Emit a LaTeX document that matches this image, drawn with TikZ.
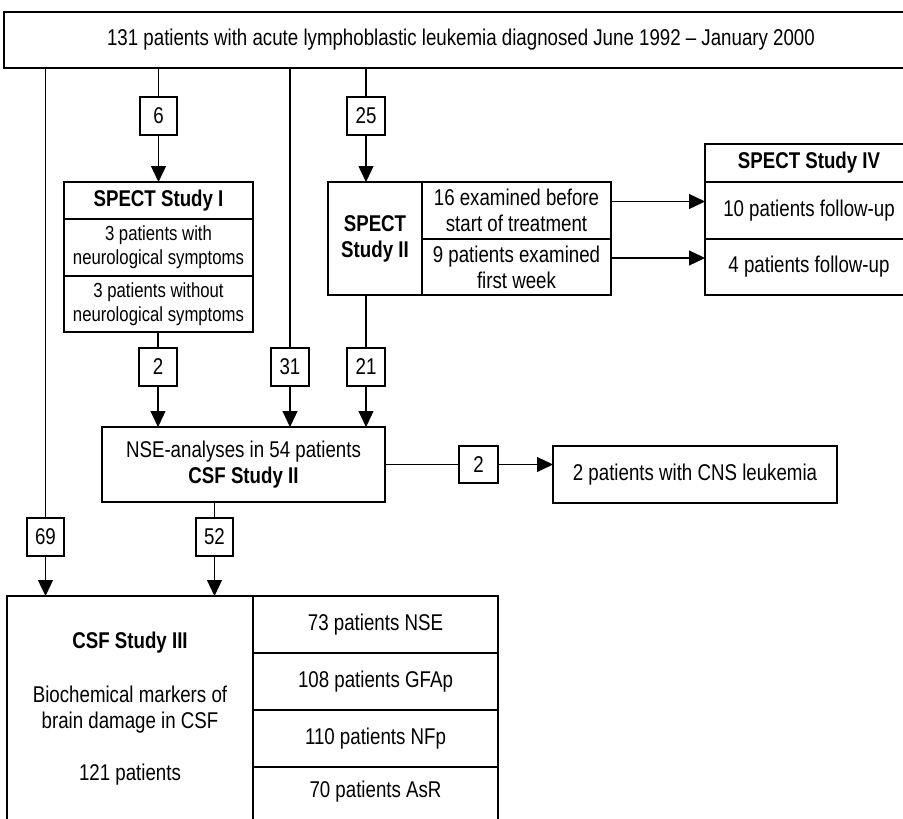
\documentclass[tikz,border=0pt]{standalone}
\usepackage{fontspec}
\setmainfont[FakeStretch=0.82]{Liberation Sans}
\usetikzlibrary{arrows.meta}
\newcommand{\mainsize}{\fontsize{22.8}{26}\selectfont}
\newcommand{\smallsize}{\fontsize{20.4}{24}\selectfont}
\tikzset{
  cellbox/.style={draw, line width=1.4pt, rectangle, inner sep=0pt, outer sep=0pt, align=center, font=\mainsize},
  txt/.style={inner sep=0pt, align=center, font=\mainsize},
  conn/.style={line width=1.3pt},
  arr/.style={line width=1.3pt, -{Triangle[length=16pt,width=15pt]}},
}
% \mkcell{name}{options}{x1}{y1}{x2}{y2}{text}
\newcommand{\mkcell}[7]{\node[cellbox,#2,minimum width={#5-#3},minimum height={#6-#4}] (#1) at ({(#3+#5)/2},{(#4+#6)/2}) {#7};}
\begin{document}
\begin{tikzpicture}[x=1pt,y=-1pt]
\fill[white] (0,0) rectangle (903,819);
\useasboundingbox (0,0) rectangle (903,819);
% top
\mkcell{top}{}{4}{12}{918}{68}{131 patients with acute lymphoblastic leukemia diagnosed June 1992 -- January 2000}
% number boxes
\mkcell{b6}{}{140}{97}{177}{135}{6}
\mkcell{b25}{}{347}{97}{385}{135}{25}
\mkcell{b2a}{}{139}{348}{177}{386}{2}
\mkcell{b31}{}{271}{348}{309}{386}{31}
\mkcell{b21}{}{347}{348}{385}{386}{21}
\mkcell{b2b}{}{459}{446}{498}{483}{2}
\mkcell{b69}{}{27}{518}{64}{556}{69}
\mkcell{b52}{}{196}{518}{233}{556}{52}
% SPECT I
\mkcell{s1t}{font=\mainsize\bfseries}{64}{182}{253}{219}{SPECT Study I}
\mkcell{s1a}{font=\smallsize}{64}{219}{253}{276}{3 patients with\\neurological symptoms}
\mkcell{s1b}{font=\smallsize}{64}{276}{253}{332}{3 patients without\\neurological symptoms}
% SPECT II
\mkcell{s2l}{font=\mainsize\bfseries}{328}{182}{422}{295}{SPECT\\Study II}
\mkcell{s2a}{}{422}{182}{611}{239}{16 examined before\\start of treatment}
\mkcell{s2b}{}{422}{239}{611}{295}{9 patients examined\\first week}
% SPECT IV
\mkcell{s4t}{font=\mainsize\bfseries}{705}{144}{913}{182}{SPECT Study IV}
\mkcell{s4a}{}{705}{182}{913}{239}{10 patients follow-up}
\mkcell{s4b}{}{705}{239}{913}{295}{4 patients follow-up}
% NSE
\mkcell{nse}{}{102}{427}{385}{502}{NSE-analyses in 54 patients\\\textbf{CSF Study II}}
\mkcell{cns}{}{553}{446}{837}{503}{2 patients with CNS leukemia}
% CSF III
\mkcell{csf}{}{7}{596}{253}{828}{}
\node[txt,font=\mainsize\bfseries] (csft) at (130,643) {CSF Study III};
\node[txt] (csfb) at (130,710) {Biochemical markers of\\brain damage in CSF};
\node[txt] (csfn) at (130,775) {121 patients};
\mkcell{r1}{}{253}{596}{498}{653}{73 patients NSE}
\mkcell{r2}{}{253}{653}{498}{710}{108 patients GFAp}
\mkcell{r3}{}{253}{710}{498}{767}{110 patients NFp}
\mkcell{r4}{}{253}{767}{498}{828}{}
\node[txt] (r4t) at (375.5,792) {70 patients AsR};
% connectors
\draw[conn] (top.south -| b69.north) -- (b69.north);
\draw[arr] (b69.south) -- (b69.south |- csf.north);
\draw[conn] (top.south -| b6.north) -- (b6.north);
\draw[arr] (b6.south) -- (b6.south |- s1t.north);
\draw[conn] (top.south -| b31.north) -- (b31.north);
\draw[arr] (b31.south) -- (b31.south |- nse.north);
\draw[conn] (top.south -| b25.north) -- (b25.north);
\draw[arr] (b25.south) -- (b25.south |- s2l.north);
\draw[conn] (s1b.south -| b2a.north) -- (b2a.north);
\draw[arr] (b2a.south) -- (b2a.south |- nse.north);
\draw[conn] (s2l.south -| b21.north) -- (b21.north);
\draw[arr] (b21.south) -- (b21.south |- nse.north);
\draw[arr] ([yshift=9pt]s2a.east) -- ([yshift=9pt]s2a.east -| s4a.west);
\draw[arr] ([yshift=9pt]s2b.east) -- ([yshift=9pt]s2b.east -| s4b.west);
\draw[conn] (nse.east |- b2b.west) -- (b2b.west);
\draw[arr] (b2b.east) -- (b2b.east -| cns.west);
\draw[conn] (nse.south -| b52.north) -- (b52.north);
\draw[arr] (b52.south) -- (b52.south |- csf.north);
\end{tikzpicture}
\end{document}
